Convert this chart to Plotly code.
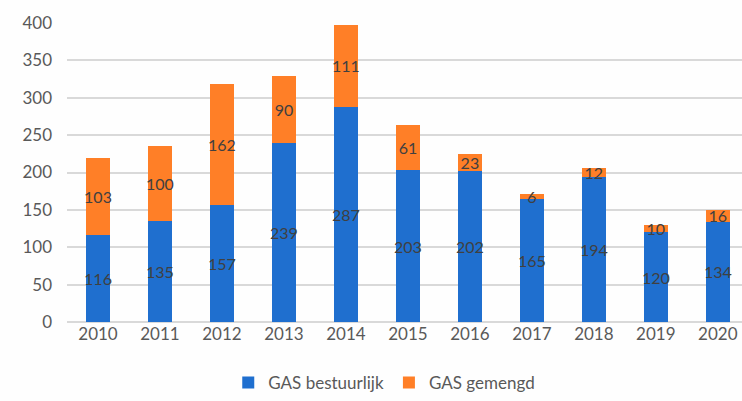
import plotly.graph_objects as go

years = ["2010", "2011", "2012", "2013", "2014", "2015", "2016", "2017", "2018", "2019", "2020"]
bestuurlijk = [116, 135, 157, 239, 287, 203, 202, 165, 194, 120, 134]
gemengd = [103, 100, 162, 90, 111, 61, 23, 6, 12, 10, 16]
y_ticks = [0, 50, 100, 150, 200, 250, 300, 350, 400]

FONT = "Lato, Open Sans, sans-serif"
LABEL_COLOR = "#404040"
TICK_COLOR = "#595959"

fig = go.Figure()
for name, values, color in [
    ("GAS bestuurlijk", bestuurlijk, "#1f6fcf"),
    ("GAS gemengd", gemengd, "#ff7f27"),
]:
    fig.add_trace(go.Bar(
        x=years, y=values, name=name,
        marker=dict(color=color, line=dict(width=0)),
        width=0.39,
        text=[str(v) for v in values],
        textposition="inside",
        insidetextanchor="middle",
        textangle=0,
        constraintext="none",
        textfont=dict(family=FONT, size=16, color=LABEL_COLOR),
        cliponaxis=False,
    ))

fig.update_layout(
    barmode="stack",
    width=742, height=401,
    margin=dict(l=67, r=0, t=23, b=78),
    paper_bgcolor="#fefefe",
    plot_bgcolor="#fefefe",
    font=dict(family=FONT, color=TICK_COLOR),
    uniformtext=dict(minsize=16, mode="show"),
    showlegend=True,
    legend=dict(
        orientation="h", x=0.47, xanchor="center", y=-0.205, yanchor="middle",
        font=dict(family=FONT, size=17, color=TICK_COLOR),
        itemwidth=30, traceorder="normal",
    ),
    xaxis=dict(
        type="category", range=[-0.5, 10.39], automargin=False,
        showgrid=False, showline=False, ticks="",
        tickfont=dict(family=FONT, size=17, color=TICK_COLOR),
    ),
    yaxis=dict(
        range=[0, 400], tickvals=y_ticks, automargin=False,
        showgrid=True, gridcolor="#d9d9d9", gridwidth=1.5,
        zeroline=True, zerolinecolor="#d9d9d9", zerolinewidth=1.5,
        showline=False, ticks="", ticklabelstandoff=14,
        tickfont=dict(family=FONT, size=17, color=TICK_COLOR),
    ),
)

fig.write_html("out.html")
